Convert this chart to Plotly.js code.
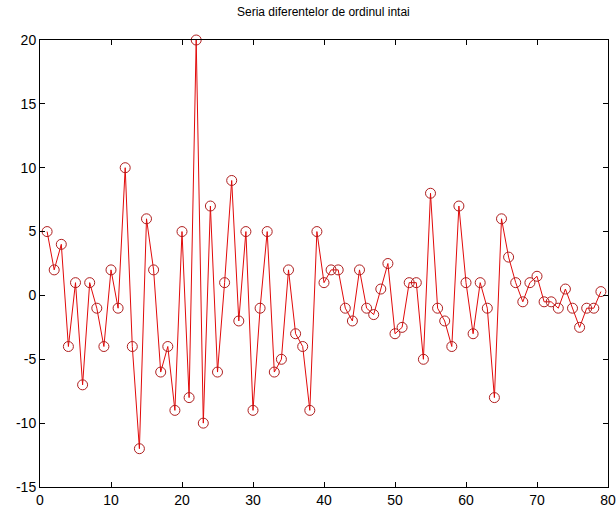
<!DOCTYPE html>
<html>
<head>
<meta charset="utf-8">
<script src="https://cdn.plot.ly/plotly-3.0.1.min.js"></script>
<style>html,body{margin:0;padding:0;background:#fff;}#chart{width:616px;height:510px;}</style>
</head>
<body>
<div id="chart"></div>
<script>
// First-order difference series
const diffValues = [5,2,4,-4,1,-7,1,-1,-4,2,-1,10,-4,-12,6,2,-6,-4,-9,5,
  -8,20,-10,7,-6,1,9,-2,5,-9,-1,5,-6,-5,2,-3,-4,-9,5,1,
  2,2,-1,-2,2,-1,-1.5,0.5,2.5,-3,-2.5,1,1,-5,8,-1,-2,-4,7,1,
  -3,1,-1,-8,6,3,1,-0.5,1,1.5,-0.5,-0.5,-1,0.5,-1,-2.5,-1,-1,0.3];
const xTicks = [0,10,20,30,40,50,60,70,80];
const yTicks = [-15,-10,-5,0,5,10,15,20];
const titleText = 'Seria diferentelor de ordinul intai';

const xIndex = diffValues.map((_, i) => i + 1);

const trace = {
  x: xIndex,
  y: diffValues,
  type: 'scatter',
  mode: 'lines+markers',
  cliponaxis: false,
  line: {color: 'rgb(225,10,10)', width: 1},
  marker: {symbol: 'circle-open', size: 10, color: 'rgb(175,30,30)', line: {width: 1, color: 'rgb(175,30,30)'}},
  hoverinfo: 'skip'
};

const axisCommon = {
  showline: true, linecolor: '#000', linewidth: 1, mirror: 'ticks',
  ticks: 'inside', ticklen: 5, tickcolor: '#000', tickwidth: 1,
  showgrid: false, zeroline: false,
  tickfont: {family: 'Liberation Sans, Arial, sans-serif', size: 14, color: '#000'}
};

const layout = {
  width: 616, height: 510,
  margin: {l: 40, r: 8, t: 40, b: 23, pad: 0},
  paper_bgcolor: '#fff', plot_bgcolor: '#fff',
  showlegend: false,
  title: {text: titleText, x: 0.525, xanchor: 'center', y: 0.977, yanchor: 'middle',
    font: {family: 'Liberation Sans, Arial, sans-serif', size: 12, color: '#000'}},
  xaxis: Object.assign({}, axisCommon, {range: [0, 80], tickvals: xTicks, ticktext: xTicks.map(String)}),
  yaxis: Object.assign({}, axisCommon, {range: [-15, 20], tickvals: yTicks, ticktext: yTicks.map(String)})
};

Plotly.newPlot('chart', [trace], layout, {displayModeBar: false, staticPlot: true});
</script>
</body>
</html>
